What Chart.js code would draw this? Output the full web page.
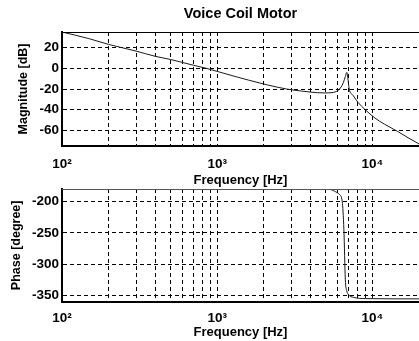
<!DOCTYPE html>
<html><head><meta charset="utf-8">
<script src="https://cdn.jsdelivr.net/npm/chart.js@4.4.0/dist/chart.umd.min.js"></script>
<style>
html,body{margin:0;padding:0;background:#fff;width:419px;height:341px;overflow:hidden}
canvas{position:absolute;left:0}
#c1{top:0}
#c2{top:186px}
</style></head><body>
<canvas id="c1" width="419" height="190"></canvas>
<canvas id="c2" width="419" height="155"></canvas>
<script>
const chartTitle = 'Voice Coil Motor';
const xAxisTitle = 'Frequency [Hz]';
const magAxisTitle = 'Magnitude [dB]';
const phaseAxisTitle = 'Phase [degree]';

const freqGridTicks = [100,200,300,400,500,600,700,800,900,1000,2000,3000,4000,5000,6000,7000,8000,9000,10000,20000];
const freqTickLabels = {100:'10²', 1000:'10³', 10000:'10⁴'};
const magTicks = [-60,-40,-20,0,20];
const phaseTicks = [-350,-300,-250,-200];

const magFreqHz   = [100,150,200,300,400,500,700,850,1000,1350,1600,2100,2800,3500,4000,4900,5500,6000,6300,6500,6700,6850,6950,7100,7500,8100,9000,10400,12000,14600,17000,20000];
const magnitudeDb = [35,28.5,23,16.6,11.5,8.5,3,0,-3,-8.5,-11.5,-16,-20,-22,-23,-23.8,-23.5,-21.5,-18,-14,-8,-4,-9,-20,-26,-33,-40,-48,-54,-61,-67,-73];

const phaseFreqHz = [100,5000,5400,5700,6150,6400,6560,6700,6850,6980,7560,9000,20000];
const phaseDeg    = [-180,-180,-181,-183.5,-189,-200,-245,-324,-343,-348,-353,-355,-355.5];

const FONT = "'Liberation Sans', Arial, Helvetica, sans-serif";
const bold = (size) => ({family: FONT, size: size, weight: 'bold'});

const topBorder = {
  id: 'topBorder',
  afterDraw(chart, args, opts) {
    const {ctx, chartArea: a} = chart;
    ctx.save();
    ctx.strokeStyle = opts.color || '#000';
    ctx.lineWidth = 1;
    ctx.beginPath();
    ctx.moveTo(a.left, a.top + 0.5);
    ctx.lineTo(a.right, a.top + 0.5);
    ctx.stroke();
    ctx.restore();
  }
};

function xScale(height, tickPad, titlePadBottom) {
  return {
    type: 'logarithmic', min: 100, max: 20000,
    afterBuildTicks: s => { s.ticks = freqGridTicks.map(v => ({value: v})); },
    afterFit: s => { s.height = height; s.paddingLeft = 0; s.paddingRight = 0; },
    ticks: {autoSkip: false, maxRotation: 0, padding: tickPad, color: '#000', font: bold(13.5),
      callback: (v) => freqTickLabels[v] || ''},
    grid: {color: '#000', lineWidth: 1, drawTicks: false},
    border: {display: true, color: '#000', width: 2, dash: [4, 3]},
    title: {display: true, text: xAxisTitle, color: '#000', font: bold(13), padding: {top: 0, bottom: titlePadBottom}}
  };
}
function yScale(min, max, ticks, title, titlePad) {
  return {
    min: min, max: max,
    afterBuildTicks: s => { s.ticks = ticks.map(v => ({value: v})); },
    afterFit: s => { s.width = 62; s.paddingTop = 0; s.paddingBottom = 0; },
    ticks: {padding: 3, color: '#000', font: bold(13.5)},
    grid: {color: '#000', lineWidth: 1, drawTicks: false},
    border: {display: true, color: '#000', width: 2, dash: [4, 3]},
    title: {display: true, text: title, color: '#000', font: bold(12.5), padding: {top: titlePad, bottom: 0}}
  };
}
function lineDataset(xs, ys) {
  return {data: xs.map((f, i) => ({x: f, y: ys[i]})), borderColor: '#1a1a1a', borderWidth: 1,
    pointRadius: 0, cubicInterpolationMode: 'monotone', fill: false};
}

new Chart(document.getElementById('c1'), {
  type: 'line',
  data: {datasets: [lineDataset(magFreqHz, magnitudeDb)]},
  options: {
    responsive: false, animation: false, devicePixelRatio: 1,
    layout: {padding: 0},
    plugins: {
      legend: {display: false}, tooltip: {enabled: false},
      title: {display: true, text: chartTitle, fullSize: false, color: '#000', font: bold(14.5), padding: {top: 5.3, bottom: 9.3}},
      topBorder: {color: '#000'}
    },
    scales: {
      x: xScale(44, 10, 2.2),
      y: yScale(-75, 35, magTicks, magAxisTitle, 16.5)
    }
  },
  plugins: [topBorder]
});

new Chart(document.getElementById('c2'), {
  type: 'line',
  data: {datasets: [lineDataset(phaseFreqHz, phaseDeg)]},
  options: {
    responsive: false, animation: false, devicePixelRatio: 1,
    layout: {padding: {top: 3, left: 0, right: 0, bottom: 0}},
    plugins: {
      legend: {display: false}, tooltip: {enabled: false},
      topBorder: {color: '#555'}
    },
    scales: {
      x: xScale(39.3, 8.5, 0.7),
      y: yScale(-360, -180, phaseTicks, phaseAxisTitle, 9.5)
    }
  },
  plugins: [topBorder]
});
</script>
</body></html>
